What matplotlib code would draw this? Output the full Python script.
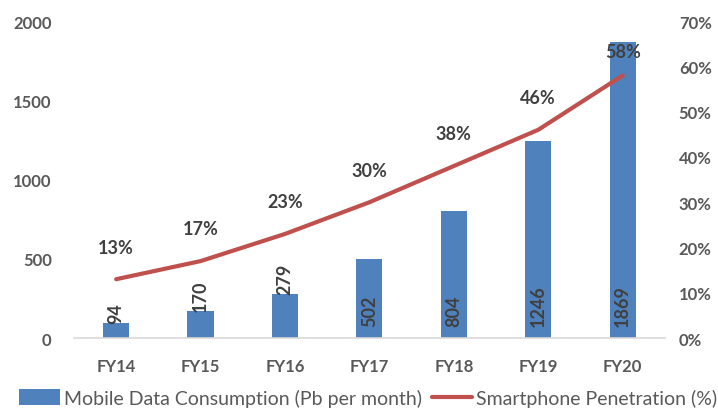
import matplotlib
matplotlib.use("Agg")
import matplotlib.pyplot as plt
import numpy as np

years = ["FY14", "FY15", "FY16", "FY17", "FY18", "FY19", "FY20"]
data_pb = [94, 170, 279, 502, 804, 1246, 1869]
smartphone_pct = [13, 17, 23, 30, 38, 46, 58]

BAR_BLUE = "#4F81BD"
LINE_RED = "#C0504D"
TICK_GRAY = "#595959"
LABEL_GRAY = "#404040"

plt.rcParams["font.family"] = ["Lato", "DejaVu Sans"]

fig = plt.figure(figsize=(7.18, 4.10), dpi=100)
ax = fig.add_axes([0.103, 0.173, 0.823, 0.773])
ax2 = ax.twinx()

x = np.arange(len(years))
bars = ax.bar(x, data_pb, width=0.31, color=BAR_BLUE, zorder=2,
              label="Mobile Data Consumption (Pb per month)")
ax.set_xlim(-0.5, len(years) - 0.5)
ax.set_ylim(0, 2000)
ax.set_yticks(np.arange(0, 2001, 500))

# value labels sit at the bar base; short bars push them up to the bar top
for xi, v in zip(x, data_pb):
    y = 75 if v > 400 else v
    ax.text(xi, y, f"{v}", rotation=90, ha="center", va="bottom",
            fontsize=13, fontweight="bold", color=LABEL_GRAY, zorder=3)

pct = np.array(smartphone_pct) / 100.0
line, = ax2.plot(x, pct, color=LINE_RED, lw=3, solid_capstyle="round",
                 label="Smartphone Penetration (%)", zorder=4)
ax2.set_ylim(0, 0.7)
ax2.set_yticks(np.arange(0, 0.71, 0.1))
ax2.set_yticklabels([f"{int(round(t * 100))}%" for t in np.arange(0, 0.71, 0.1)])

for i, (xi, p, s) in enumerate(zip(x, pct, smartphone_pct)):
    off = 11 if i == len(x) - 1 else 17
    ax2.annotate(f"{s}%", (xi, p), xytext=(0, off), textcoords="offset points",
                 ha="center", va="bottom", fontsize=13, fontweight="bold",
                 color=LABEL_GRAY, zorder=5)

ax2.set_zorder(ax.get_zorder() + 1)
ax2.patch.set_visible(False)

for a in (ax, ax2):
    for side in ("top", "left", "right", "bottom"):
        a.spines[side].set_visible(False)
ax.spines["bottom"].set_visible(True)
ax.spines["bottom"].set_color("#D9D9D9")
ax.spines["bottom"].set_linewidth(1.2)

ax.set_xticks(x)
ax.set_xticklabels(years)
ax.tick_params(axis="x", length=0, pad=14, labelsize=12, labelcolor=TICK_GRAY)
ax.tick_params(axis="y", length=0, pad=16, labelsize=12, labelcolor=TICK_GRAY)
ax2.tick_params(axis="y", length=0, pad=10, labelsize=12, labelcolor=TICK_GRAY)
for lab in ax.get_xticklabels() + ax.get_yticklabels() + ax2.get_yticklabels():
    lab.set_fontweight("bold")

leg = fig.legend([bars, line],
                 ["Mobile Data Consumption (Pb per month)", "Smartphone Penetration (%)"],
                 loc="center", bbox_to_anchor=(0.513, 0.027), ncol=2, frameon=False,
                 fontsize=14, handlelength=2.1, handleheight=0.9,
                 handletextpad=0.2, columnspacing=0.5, borderaxespad=0)
for t in leg.get_texts():
    t.set_color(TICK_GRAY)

fig.savefig("out.png", dpi=100)
